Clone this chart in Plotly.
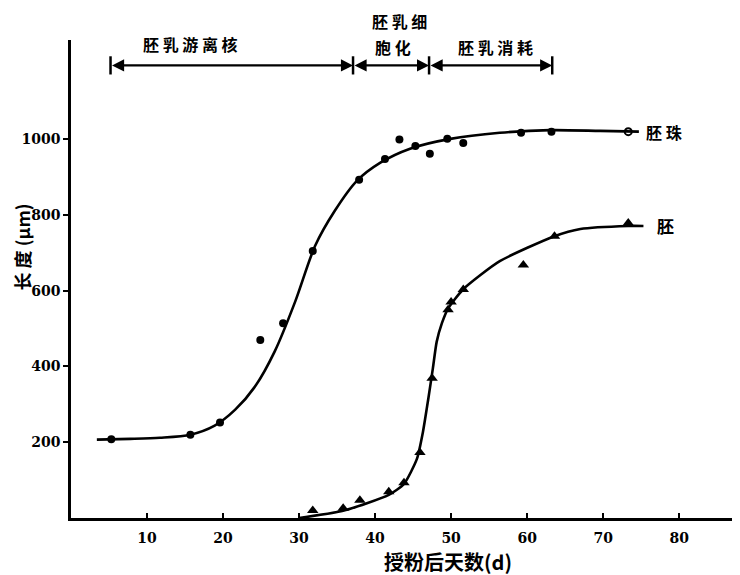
import plotly.graph_objects as go

# Ovule (胚珠) observed points
ovule_x = [5.3, 15.7, 19.6, 24.9, 27.9, 31.8, 37.9, 41.3, 43.2, 45.3, 47.2, 49.5, 51.6, 59.2, 63.2]
ovule_y = [208, 220, 252, 470, 514, 705, 893, 948, 999, 982, 962, 1001, 990, 1017, 1020]
ovule_open_x = [73.3]
ovule_open_y = [1020]

# Embryo (胚) observed points
embryo_x = [31.8, 35.8, 38.0, 41.8, 43.8, 45.9, 47.5, 49.6, 50.0, 51.6, 59.5, 63.6, 73.3]
embryo_y = [20, 26, 47, 69, 93, 173, 369, 550, 570, 603, 668, 744, 779]

# Hand-drawn fitted curves
ovule_curve_x = [3.4, 7.8, 11.7, 15.7, 18.9, 21.6, 24.2, 26.8, 29.5, 32.1, 34.7, 37.6, 40.7, 44.6, 49.9, 56.4, 63.0, 69.6, 74.7]
ovule_curve_y = [207, 209, 212, 220, 244, 286, 347, 440, 572, 718, 811, 890, 938, 975, 1001, 1017, 1024, 1022, 1020]
embryo_curve_x = [30.0, 35.8, 41.8, 43.8, 45.5, 46.3, 47.0, 47.6, 48.1, 48.8, 49.6, 51.6, 56.4, 63.6, 67.0, 73.3, 75.3]
embryo_curve_y = [0, 19, 61, 90, 156, 228, 315, 395, 465, 515, 553, 604, 678, 744, 763, 771, 771]

# Developmental stages bar
stage_bounds = [5.2, 37.1, 47.1, 63.3]
stage_level = 1195
stage_labels = ["胚 乳 游 离 核", "胚 乳 细", "胞 化", "胚 乳 消 耗"]
stage_label_x = [15.7, 43.2, 42.3, 55.9]
stage_label_paper_y = [0.991, 1.039, 0.985, 0.985]

x_ticks = [10, 20, 30, 40, 50, 60, 70, 80]
y_ticks = [200, 400, 600, 800, 1000]

CJK = "Noto Sans CJK SC"
NUM = "DejaVu Serif"

fig = go.Figure()
fig.add_trace(go.Scatter(x=ovule_curve_x, y=ovule_curve_y, mode="lines",
                         line=dict(color="black", width=2.6, shape="spline", smoothing=0.8),
                         showlegend=False, hoverinfo="skip"))
fig.add_trace(go.Scatter(x=embryo_curve_x, y=embryo_curve_y, mode="lines",
                         line=dict(color="black", width=2.6, shape="spline", smoothing=0.6),
                         showlegend=False, hoverinfo="skip"))
fig.add_trace(go.Scatter(x=ovule_x, y=ovule_y, mode="markers",
                         marker=dict(symbol="circle", size=8, color="black"),
                         showlegend=False))
fig.add_trace(go.Scatter(x=ovule_open_x, y=ovule_open_y, mode="markers",
                         marker=dict(symbol="circle-open", size=7, color="black", line=dict(width=2)),
                         showlegend=False))
fig.add_trace(go.Scatter(x=embryo_x, y=embryo_y, mode="markers",
                         marker=dict(symbol="triangle-up", size=10, color="black"),
                         showlegend=False))
# stage bar: boundary ticks + double-headed arrows per stage
fig.add_trace(go.Scatter(x=stage_bounds, y=[stage_level] * len(stage_bounds), mode="markers",
                         marker=dict(symbol="line-ns", size=13, line=dict(color="black", width=2.5)),
                         showlegend=False, cliponaxis=False, hoverinfo="skip"))
for a, b in zip(stage_bounds[:-1], stage_bounds[1:]):
    fig.add_annotation(x=b, y=stage_level, ax=a, ay=stage_level, xref="x", yref="y",
                       axref="x", ayref="y", text="", showarrow=True,
                       arrowside="end+start", arrowhead=2, arrowsize=1.1,
                       arrowwidth=2.2, arrowcolor="black", standoff=0, startstandoff=0)

for t, x, y in zip(stage_labels, stage_label_x, stage_label_paper_y):
    fig.add_annotation(x=x, y=y, xref="x", yref="paper", yanchor="middle", text=t,
                       showarrow=False,
                       font=dict(family=CJK, size=16, color="black", weight="bold"))

fig.add_annotation(x=75.4, y=1020, text="胚 珠", showarrow=False, xanchor="left",
                   font=dict(family=CJK, size=16, color="black", weight="bold"))
fig.add_annotation(x=76.8, y=771, text="胚", showarrow=False, xanchor="left",
                   font=dict(family=CJK, size=17, color="black", weight="bold"))

# axis titles
fig.add_annotation(x=49.6, y=-0.092, xref="x", yref="paper", yanchor="middle",
                   text="授粉后天数(d)", showarrow=False,
                   font=dict(family=CJK, size=20, color="black", weight="bold"))
fig.add_annotation(x=-0.074, y=0.567, xref="paper", yref="paper", xanchor="center",
                   yanchor="middle", textangle=-90, text="长 度 (μm)", showarrow=False,
                   font=dict(family=CJK, size=18, color="black", weight="bold"))

fig.update_xaxes(range=[0, 88], tickvals=x_ticks, ticks="inside", ticklen=5, tickwidth=2,
                 tickcolor="black", showline=True, linecolor="black", linewidth=2.5,
                 showgrid=False, zeroline=False, automargin=False, ticklabelstandoff=5,
                 tickfont=dict(family=NUM, size=14, color="black", weight="bold"))
fig.update_yaxes(range=[0, 1262], tickvals=y_ticks, ticks="outside", ticklen=5, tickwidth=2,
                 tickcolor="black", showline=True, linecolor="black", linewidth=2.5,
                 showgrid=False, zeroline=False, automargin=False,
                 tickfont=dict(family=NUM, size=14, color="black", weight="bold"))

# page has an 8px body margin, so the figure is sized to fit the 740x575 window
fig.update_layout(width=732, height=567, plot_bgcolor="white", paper_bgcolor="white",
                  margin=dict(l=63, r=0, t=32, b=57), showlegend=False)

fig.write_html("out.html")
